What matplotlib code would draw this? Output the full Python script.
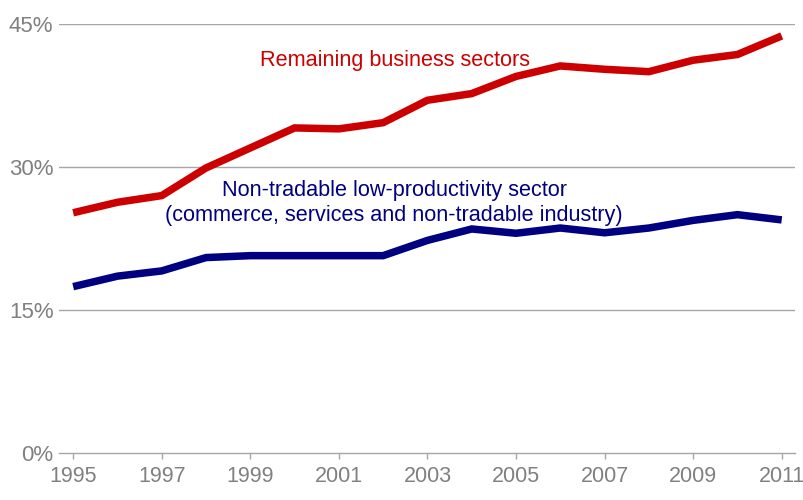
import matplotlib
matplotlib.use("Agg")
import matplotlib.pyplot as plt
from matplotlib.ticker import FuncFormatter

plt.rcParams['font.family'] = ['Liberation Sans', 'DejaVu Sans']

years = list(range(1995, 2012))
remaining_business = [25.2, 26.3, 27.0, 29.9, 32.0, 34.1, 34.0, 34.65, 37.0, 37.7,
                      39.5, 40.6, 40.25, 40.0, 41.2, 41.8, 43.75]
non_tradable = [17.45, 18.55, 19.1, 20.5, 20.7, 20.7, 20.7, 20.7, 22.3, 23.5,
                23.05, 23.6, 23.1, 23.6, 24.4, 25.0, 24.45]
x_ticks = list(range(1995, 2012, 2))
y_ticks = [0, 15, 30, 45]

RED = '#CC0000'
NAVY = '#000080'
GREY = '#808080'
GRID = '#A6A6A6'

fig = plt.figure(figsize=(8.04, 5.0), dpi=100)
ax = fig.add_axes([59 / 804, 1 - 453 / 500, (795 - 59) / 804, (453 - 24) / 500])

ax.plot(years, remaining_business, color=RED, lw=5.4, solid_joinstyle='miter',
        solid_capstyle='butt', zorder=3)
ax.plot(years, non_tradable, color=NAVY, lw=5.4, solid_joinstyle='miter',
        solid_capstyle='butt', zorder=3)

ax.set_xlim(1994.68, 2011.3)
ax.set_ylim(0, 45)
ax.set_xticks(x_ticks)
ax.set_yticks(y_ticks)
ax.yaxis.set_major_formatter(FuncFormatter(lambda v, p: f"{v:.0f}%"))

for y in y_ticks[1:]:
    ax.axhline(y, color=GRID, lw=1.0, zorder=1)

for side in ('top', 'right', 'left'):
    ax.spines[side].set_visible(False)
ax.spines['bottom'].set_color(GRID)
ax.spines['bottom'].set_linewidth(1.0)

ax.tick_params(axis='x', colors=GREY, labelsize=15.5, length=4, width=1,
               direction='out', pad=5)
ax.tick_params(axis='x', which='both', color=GRID)
ax.tick_params(axis='y', colors=GREY, labelsize=16, length=0, pad=4)

ax.text(2002.27, 41.2, "Remaining business sectors", color=RED, fontsize=15.6,
        ha='center', va='center')
ax.text(2002.25, 26.2, "Non-tradable low-productivity sector\n"
        "(commerce, services and non-tradable industry)",
        color=NAVY, fontsize=15.6, ha='center', va='center', linespacing=1.22)

fig.savefig("out.png", dpi=100)
